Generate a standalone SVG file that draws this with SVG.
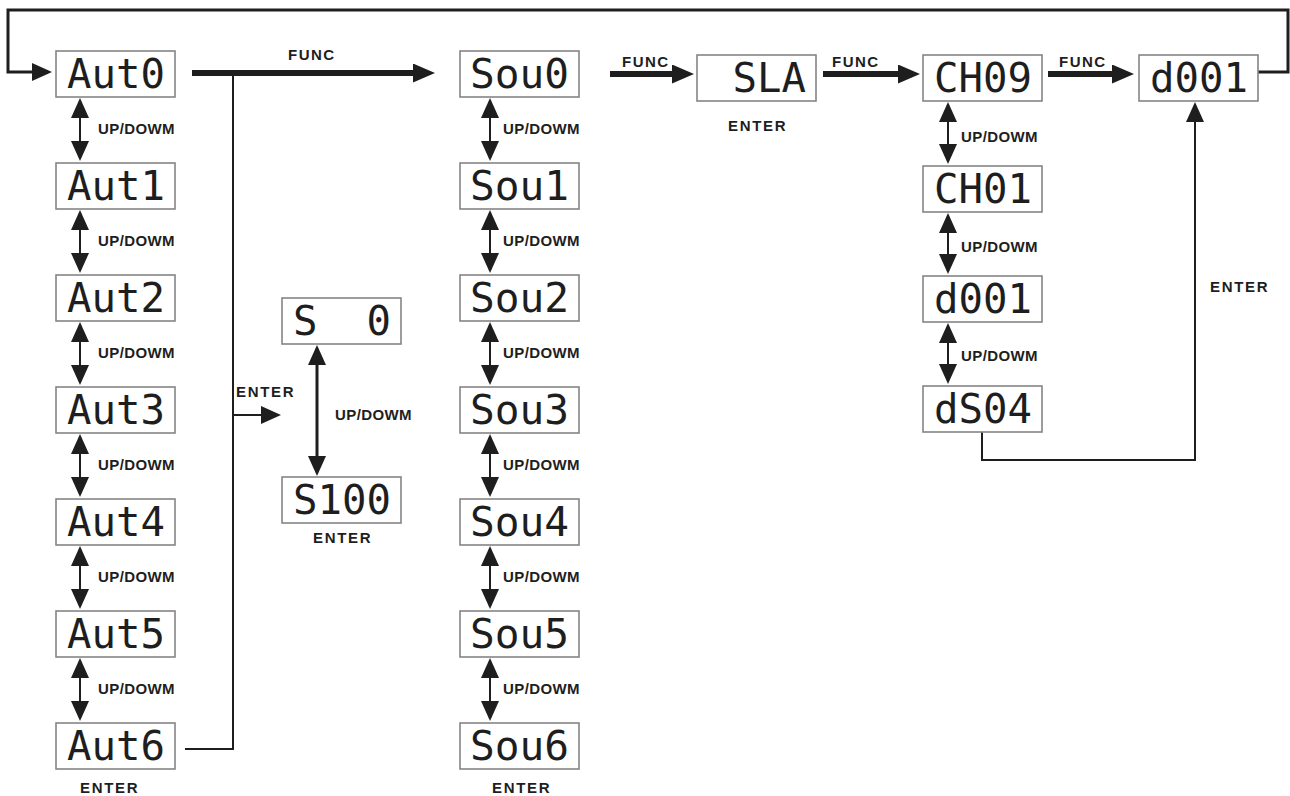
<svg xmlns="http://www.w3.org/2000/svg" width="1290" height="796" viewBox="0 0 1290 796">
<style>
.box{fill:#fff;stroke:#858585;stroke-width:1.6}
.seg{font-family:"DejaVu Sans Mono","Liberation Mono",monospace;font-size:41px;fill:#1e1e1e}
.lbl{font-family:"Liberation Sans",Arial,sans-serif;font-weight:bold;font-size:15px;fill:#1e1e1e}
.func{letter-spacing:1.5px}
.ent{letter-spacing:1.7px}
.ud{letter-spacing:0.4px}
.thin{fill:none;stroke:#1e1e1e;stroke-width:2}
.mid{fill:none;stroke:#1e1e1e;stroke-width:3}
.thick{fill:none;stroke:#1e1e1e;stroke-width:6}
</style>
<defs>
<marker id="ah" markerUnits="userSpaceOnUse" markerWidth="20" markerHeight="18" viewBox="0 0 20 18" refX="16" refY="9" orient="auto-start-reverse"><path d="M0,0 L20,9 L0,18 Z" fill="#1e1e1e"/></marker>
<marker id="ahT" markerUnits="userSpaceOnUse" markerWidth="22" markerHeight="19" viewBox="0 0 22 19" refX="10" refY="9.5" orient="auto"><path d="M0,0 L22,9.5 L0,19 Z" fill="#1e1e1e"/></marker>
</defs>
<rect width="1290" height="796" fill="#fff"/>

<g id="connectors">
<path class="mid" d="M1258,72 H1288 V10 H8 V72 H48" marker-end="url(#ah)"/>
<path class="thick" d="M192,73 H423" marker-end="url(#ahT)"/>
<path class="thick" d="M610,74 H682" marker-end="url(#ahT)"/>
<path class="thick" d="M823,74 H908" marker-end="url(#ahT)"/>
<path class="thick" d="M1048,74 H1122" marker-end="url(#ahT)"/>
<path class="thin" d="M233,73 V749 H185"/>
<path class="thin" d="M233,415 H277" marker-end="url(#ah)"/>
<path class="thin" d="M982,432 V460 H1195 V106" marker-end="url(#ah)"/>
<path class="mid" d="M317,349 V472" marker-start="url(#ah)" marker-end="url(#ah)"/>
<g id="aut-arrows">
<path class="thin" d="M80,102 V157" marker-start="url(#ah)" marker-end="url(#ah)"/>
<path class="thin" d="M80,214 V269" marker-start="url(#ah)" marker-end="url(#ah)"/>
<path class="thin" d="M80,326 V381" marker-start="url(#ah)" marker-end="url(#ah)"/>
<path class="thin" d="M80,438 V493" marker-start="url(#ah)" marker-end="url(#ah)"/>
<path class="thin" d="M80,550 V605" marker-start="url(#ah)" marker-end="url(#ah)"/>
<path class="thin" d="M80,662 V717" marker-start="url(#ah)" marker-end="url(#ah)"/>
</g>
<g id="sou-arrows">
<path class="thin" d="M490,102 V157" marker-start="url(#ah)" marker-end="url(#ah)"/>
<path class="thin" d="M490,214 V269" marker-start="url(#ah)" marker-end="url(#ah)"/>
<path class="thin" d="M490,326 V381" marker-start="url(#ah)" marker-end="url(#ah)"/>
<path class="thin" d="M490,438 V493" marker-start="url(#ah)" marker-end="url(#ah)"/>
<path class="thin" d="M490,550 V605" marker-start="url(#ah)" marker-end="url(#ah)"/>
<path class="thin" d="M490,662 V717" marker-start="url(#ah)" marker-end="url(#ah)"/>
</g>
<g id="ch-arrows">
<path class="thin" d="M948,106 V160" marker-start="url(#ah)" marker-end="url(#ah)"/>
<path class="thin" d="M948,217 V270" marker-start="url(#ah)" marker-end="url(#ah)"/>
<path class="thin" d="M948,327 V380" marker-start="url(#ah)" marker-end="url(#ah)"/>
</g>
</g>

<g id="labels">
<text class="lbl func" x="288" y="60">FUNC</text>
<text class="lbl func" x="622" y="67">FUNC</text>
<text class="lbl func" x="832" y="67">FUNC</text>
<text class="lbl func" x="1059" y="67">FUNC</text>
<text class="lbl ent" x="728" y="131">ENTER</text>
<text class="lbl ent" x="236" y="397">ENTER</text>
<text class="lbl ent" x="313" y="543">ENTER</text>
<text class="lbl ent" x="80" y="793">ENTER</text>
<text class="lbl ent" x="492" y="793">ENTER</text>
<text class="lbl ent" x="1210" y="292">ENTER</text>
<text class="lbl ud" x="335" y="420">UP/DOWM</text>
<text class="lbl ud" x="98" y="134">UP/DOWM</text>
<text class="lbl ud" x="98" y="246">UP/DOWM</text>
<text class="lbl ud" x="98" y="358">UP/DOWM</text>
<text class="lbl ud" x="98" y="470">UP/DOWM</text>
<text class="lbl ud" x="98" y="582">UP/DOWM</text>
<text class="lbl ud" x="98" y="694">UP/DOWM</text>
<text class="lbl ud" x="503" y="134">UP/DOWM</text>
<text class="lbl ud" x="503" y="246">UP/DOWM</text>
<text class="lbl ud" x="503" y="358">UP/DOWM</text>
<text class="lbl ud" x="503" y="470">UP/DOWM</text>
<text class="lbl ud" x="503" y="582">UP/DOWM</text>
<text class="lbl ud" x="503" y="694">UP/DOWM</text>
<text class="lbl ud" x="961" y="142">UP/DOWM</text>
<text class="lbl ud" x="961" y="252">UP/DOWM</text>
<text class="lbl ud" x="961" y="361">UP/DOWM</text>
</g>

<g id="aut0"><rect class="box" x="56" y="51" width="119" height="46"/><text class="seg" x="67" y="88" textLength="98" lengthAdjust="spacingAndGlyphs">Aut0</text></g>
<g id="aut1"><rect class="box" x="56" y="163" width="119" height="46"/><text class="seg" x="67" y="200" textLength="98" lengthAdjust="spacingAndGlyphs">Aut1</text></g>
<g id="aut2"><rect class="box" x="56" y="275" width="119" height="46"/><text class="seg" x="67" y="312" textLength="98" lengthAdjust="spacingAndGlyphs">Aut2</text></g>
<g id="aut3"><rect class="box" x="56" y="387" width="119" height="46"/><text class="seg" x="67" y="424" textLength="98" lengthAdjust="spacingAndGlyphs">Aut3</text></g>
<g id="aut4"><rect class="box" x="56" y="499" width="119" height="46"/><text class="seg" x="67" y="536" textLength="98" lengthAdjust="spacingAndGlyphs">Aut4</text></g>
<g id="aut5"><rect class="box" x="56" y="611" width="119" height="46"/><text class="seg" x="67" y="648" textLength="98" lengthAdjust="spacingAndGlyphs">Aut5</text></g>
<g id="aut6"><rect class="box" x="56" y="723" width="119" height="46"/><text class="seg" x="67" y="760" textLength="98" lengthAdjust="spacingAndGlyphs">Aut6</text></g>

<g id="s0"><rect class="box" x="282" y="298" width="119" height="46"/><text class="seg" x="293" y="335" textLength="98" lengthAdjust="spacingAndGlyphs" xml:space="preserve">S  0</text></g>
<g id="s100"><rect class="box" x="282" y="477" width="119" height="46"/><text class="seg" x="293" y="514" textLength="98" lengthAdjust="spacingAndGlyphs">S100</text></g>

<g id="sou0"><rect class="box" x="460" y="51" width="119" height="46"/><text class="seg" x="470" y="88" textLength="99" lengthAdjust="spacingAndGlyphs">Sou0</text></g>
<g id="sou1"><rect class="box" x="460" y="163" width="119" height="46"/><text class="seg" x="470" y="200" textLength="99" lengthAdjust="spacingAndGlyphs">Sou1</text></g>
<g id="sou2"><rect class="box" x="460" y="275" width="119" height="46"/><text class="seg" x="470" y="312" textLength="99" lengthAdjust="spacingAndGlyphs">Sou2</text></g>
<g id="sou3"><rect class="box" x="460" y="387" width="119" height="46"/><text class="seg" x="470" y="424" textLength="99" lengthAdjust="spacingAndGlyphs">Sou3</text></g>
<g id="sou4"><rect class="box" x="460" y="499" width="119" height="46"/><text class="seg" x="470" y="536" textLength="99" lengthAdjust="spacingAndGlyphs">Sou4</text></g>
<g id="sou5"><rect class="box" x="460" y="611" width="119" height="46"/><text class="seg" x="470" y="648" textLength="99" lengthAdjust="spacingAndGlyphs">Sou5</text></g>
<g id="sou6"><rect class="box" x="460" y="723" width="119" height="46"/><text class="seg" x="470" y="760" textLength="99" lengthAdjust="spacingAndGlyphs">Sou6</text></g>

<g id="sla"><rect class="box" x="697" y="55" width="119" height="46"/><text class="seg" x="708" y="92" textLength="98" lengthAdjust="spacingAndGlyphs" xml:space="preserve"> SLA</text></g>

<g id="ch09"><rect class="box" x="923" y="55" width="119" height="46"/><text class="seg" x="934" y="92" textLength="98" lengthAdjust="spacingAndGlyphs">CH09</text></g>
<g id="ch01"><rect class="box" x="923" y="166" width="119" height="46"/><text class="seg" x="934" y="203" textLength="98" lengthAdjust="spacingAndGlyphs">CH01</text></g>
<g id="d001b"><rect class="box" x="923" y="276" width="119" height="46"/><text class="seg" x="934" y="313" textLength="98" lengthAdjust="spacingAndGlyphs">d001</text></g>
<g id="ds04"><rect class="box" x="923" y="386" width="119" height="46"/><text class="seg" x="934" y="423" textLength="98" lengthAdjust="spacingAndGlyphs">dS04</text></g>

<g id="d001"><rect class="box" x="1139" y="55" width="119" height="46"/><text class="seg" x="1150" y="92" textLength="98" lengthAdjust="spacingAndGlyphs">d001</text></g>
</svg>
